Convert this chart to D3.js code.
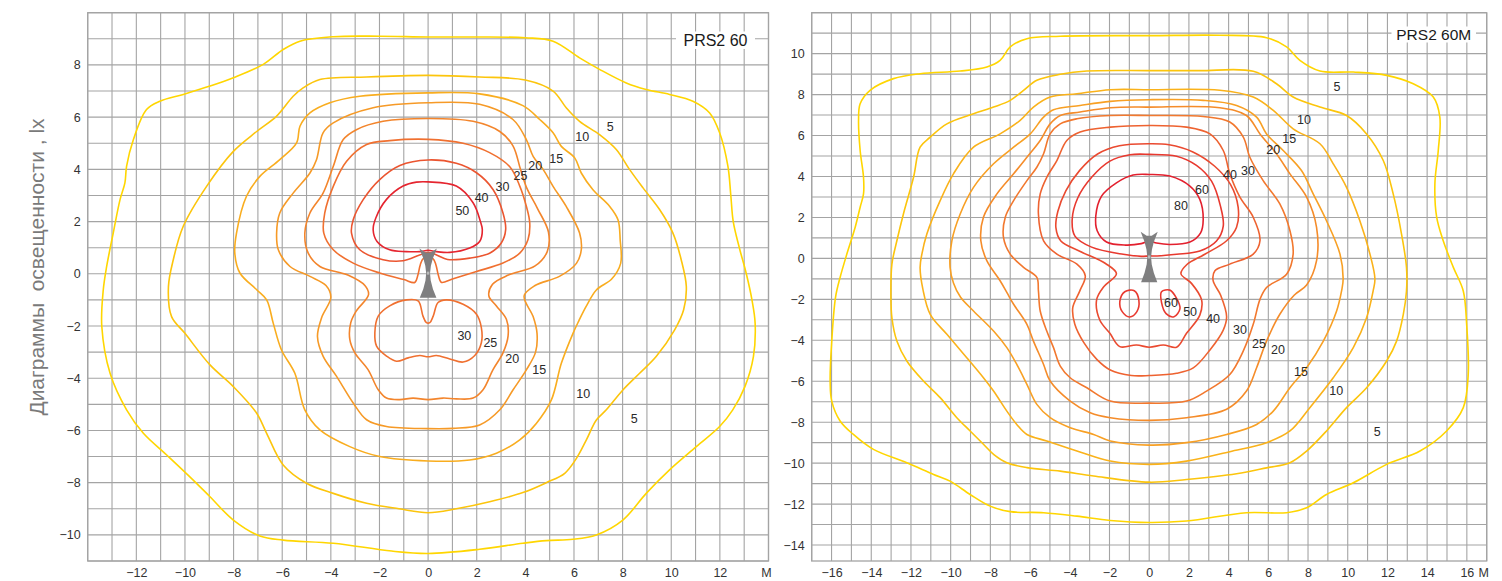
<!DOCTYPE html>
<html><head><meta charset="utf-8">
<script src="https://cdn.jsdelivr.net/npm/d3@7"></script>
<style>body{margin:0;background:#fff}svg{display:block}</style>
</head><body>
<svg id="c" width="1502" height="581"></svg>
<script>
// ---------- DATA ----------
const leftTitle = "PRS2 60";
const rightTitle = "PRS2 60M";
const yAxisTitle = "Диаграммы  освещенности , lx";
const unitLabel = "М";
const leftXTicks = [-12,-10,-8,-6,-4,-2,0,2,4,6,8,10,12];
const leftYTicks = [-10,-8,-6,-4,-2,0,2,4,6,8];
const rightXTicks = [-16,-14,-12,-10,-8,-6,-4,-2,0,2,4,6,8,10,12,14,16];
const rightYTicks = [-14,-12,-10,-8,-6,-4,-2,0,2,4,6,8,10];

const leftLevels = [5,10,15,20,25,30,40,50];
const rightLevels = [5,10,15,20,25,30,40,50,60,80];

// left panel isolines (x, y in metres)
const L5 = [[0,9.07],[2,9.07],[4,9.04],[5.14,8.91],[6.23,8.27],[7.05,7.83],[8.15,7.31],[8.97,7.06],[9.93,6.87],[10.89,6.61],[11.58,6.16],[11.99,5.4],[12.33,4.12],[12.45,3.0],[12.55,2.0],[12.8,1.0],[13.08,0.03],[13.32,-1.0],[13.45,-1.89],[13.38,-3.17],[13.03,-4.32],[12.53,-5.21],[11.99,-5.85],[11.03,-6.62],[9.93,-7.51],[8.97,-8.41],[8.01,-9.43],[6.92,-10.0],[5.96,-10.17],[4.86,-10.22],[3.9,-10.32],[2.12,-10.55],[0,-10.71],[-1.5,-10.62],[-3.9,-10.32],[-5.96,-10.2],[-6.92,-10.04],[-8.01,-9.43],[-8.97,-8.54],[-9.66,-7.9],[-10.75,-6.94],[-11.71,-6.11],[-12.4,-5.21],[-13.08,-3.81],[-13.42,-2.02],[-13.36,-0.62],[-13.22,0.28],[-12.95,1.56],[-12.67,2.84],[-12.47,3.48],[-12.4,4.12],[-12.12,5.14],[-11.58,6.29],[-11.03,6.61],[-10.07,6.87],[-8.97,7.19],[-8.01,7.51],[-6.78,8.02],[-5.96,8.59],[-5.27,8.91],[-3.9,9.08],[-2,9.1]];
const L10 = [[0,7.6],[2.12,7.54],[4,7.42],[5.14,7.0],[5.68,6.36],[6.23,5.84],[7.05,5.33],[7.74,4.76],[8.29,3.99],[8.84,3.29],[9.52,2.46],[10.07,1.56],[10.41,0.54],[10.62,-0.49],[10.51,-1.38],[10.14,-2.15],[9.38,-3.17],[8.7,-3.81],[8.01,-4.45],[7.33,-5.21],[6.92,-5.6],[6.51,-6.36],[6.1,-7.07],[5.62,-7.64],[4.86,-8.0],[3.9,-8.38],[2.53,-8.73],[1.16,-9.0],[0,-9.15],[-1.2,-9.0],[-2.53,-8.79],[-3.9,-8.41],[-5.0,-8.02],[-5.96,-7.32],[-6.64,-6.11],[-7.05,-5.34],[-8.01,-4.32],[-8.97,-3.49],[-10.0,-2.28],[-10.55,-1.64],[-10.68,-0.5],[-10.48,0.54],[-10.07,1.82],[-9.11,3.35],[-8.01,4.69],[-7.05,5.45],[-6.23,6.04],[-5.55,6.8],[-5.14,7.12],[-4.45,7.44],[-2.53,7.54]];
const L15 = [[0,6.93],[2.12,6.89],[3.9,6.44],[4.59,5.91],[5.14,5.4],[5.48,4.88],[6.03,4.44],[6.3,3.86],[6.78,3.22],[7.47,2.58],[7.81,2.07],[7.9,1.3],[7.92,0.4],[7.55,-0.2],[6.92,-0.62],[6.5,-1.25],[6.2,-1.8],[5.96,-2.28],[5.48,-3.43],[5.07,-4.83],[4.45,-5.73],[3.77,-6.36],[2.81,-6.87],[1.71,-7.13],[0,-7.17],[-1.99,-7.0],[-3.22,-6.62],[-4.45,-5.98],[-5.07,-5.21],[-5.48,-3.81],[-6.03,-2.92],[-6.37,-1.89],[-6.64,-1.0],[-7.05,-0.61],[-7.74,0.03],[-7.95,0.79],[-7.88,1.56],[-7.47,2.97],[-6.92,3.73],[-6.1,4.37],[-5.41,5.01],[-5.27,5.65],[-4.86,6.16],[-4.04,6.55],[-2.81,6.8]];
const L20 = [[0,6.55],[2.12,6.49],[3.49,5.91],[4.04,5.14],[4.32,4.5],[4.73,4.0],[5.14,3.35],[5.68,2.58],[6.23,1.56],[6.3,0.92],[6.1,0.4],[5.4,-0.1],[4.4,-0.45],[3.95,-0.85],[4.32,-1.64],[4.48,-2.28],[4.42,-3.0],[4.04,-3.68],[3.49,-4.45],[2.95,-5.21],[2.12,-5.79],[1.03,-5.92],[0,-5.93],[-1.71,-5.85],[-2.53,-5.59],[-3.08,-4.95],[-3.77,-3.92],[-4.32,-3.15],[-4.55,-2.4],[-4.38,-1.68],[-4.0,-0.9],[-4.2,-0.45],[-4.86,-0.1],[-5.68,0.28],[-6.16,0.92],[-6.23,1.56],[-6.1,2.33],[-5.55,3.09],[-4.86,3.86],[-4.59,4.37],[-4.32,5.4],[-3.9,5.78],[-2.26,6.36]];
const L25 = [[0,5.95],[1.85,5.84],[2.95,5.45],[3.49,4.9],[3.8,4.0],[4.05,3.3],[4.5,2.5],[4.95,1.6],[4.9,0.85],[4.4,0.3],[3.3,-0.05],[2.65,-0.4],[2.5,-0.85],[2.81,-1.23],[3.22,-1.74],[3.29,-2.38],[3.08,-3.03],[2.67,-3.67],[2.26,-4.44],[1.85,-4.76],[1.16,-4.79],[0.62,-4.76],[0,-4.82],[-0.62,-4.76],[-1.16,-4.82],[-1.71,-4.76],[-2.05,-4.44],[-2.47,-3.67],[-3.01,-3.03],[-3.22,-2.51],[-3.18,-1.87],[-2.95,-1.42],[-2.45,-0.8],[-2.6,-0.45],[-3.3,-0.05],[-4.45,0.28],[-4.93,0.79],[-5.07,1.56],[-4.86,2.33],[-4.32,3.09],[-3.9,4.12],[-3.49,5.14],[-2.95,5.52],[-1.85,5.84]];
const L30a = [[0,5.15],[1.44,5.0],[2.53,4.64],[3.36,4.1],[3.77,3.36],[4.04,2.59],[4.18,1.95],[4.11,1.31],[3.77,0.79],[3.08,0.41],[1.99,0.09],[1.0,-0.2],[0.55,-0.33],[0.42,-0.05],[0.32,0.35],[0.2,0.58],[0,0.6],[-0.2,0.58],[-0.32,0.35],[-0.42,-0.05],[-0.55,-0.33],[-1.0,-0.22],[-1.99,0.03],[-3.08,0.41],[-3.9,0.92],[-4.29,1.56],[-4.25,2.33],[-3.9,3.35],[-3.36,4.3],[-2.53,4.95],[-1.58,5.1]];
const L30b = [[0.07,-1.87],[0.21,-1.62],[0.41,-1.1],[0.75,-1.0],[1.44,-1.17],[1.99,-1.55],[2.19,-2.06],[2.19,-2.64],[1.92,-3.13],[1.44,-3.38],[0.89,-3.26],[0.34,-3.13],[0,-3.18],[-0.34,-3.13],[-0.82,-3.22],[-1.3,-3.35],[-1.71,-3.15],[-2.12,-2.77],[-2.19,-2.26],[-2.05,-1.62],[-1.58,-1.23],[-0.89,-1.0],[-0.41,-1.04],[-0.21,-1.62],[-0.07,-1.87]];
const L40 = [[0,4.36],[1.16,4.23],[1.99,3.87],[2.67,3.23],[3.08,2.33],[3.19,1.69],[3.01,1.18],[2.53,0.79],[1.71,0.6],[0.8,0.55],[0.35,0.72],[0,0.82],[-0.35,0.72],[-1.03,0.5],[-1.85,0.54],[-2.81,0.92],[-3.15,1.56],[-3.08,2.07],[-2.67,2.84],[-1.99,3.61],[-1.16,4.15]];
const L50 = [[0,3.52],[1.16,3.36],[1.85,2.72],[2.15,2.01],[2.23,1.69],[2.12,1.24],[1.71,0.99],[0.89,0.82],[0.34,0.85],[0,0.9],[-0.34,0.85],[-0.9,0.85],[-1.58,0.92],[-2.1,1.24],[-2.26,1.69],[-2.15,2.14],[-1.71,2.85],[-1.03,3.36],[-0.48,3.51]];

// right panel isolines
const R5 = [[0,10.88],[3.56,10.9],[5.91,10.78],[6.92,10.33],[7.59,9.67],[8.6,9.15],[10.28,9.1],[11.96,8.94],[13.3,8.53],[14.31,7.88],[14.64,6.9],[14.56,5.27],[14.39,3.64],[14.48,2.01],[14.81,0.86],[15.32,-0.44],[15.82,-1.59],[15.99,-3.22],[16.07,-5.66],[15.82,-7.29],[14.98,-8.43],[13.64,-9.41],[11.96,-10.06],[10.28,-10.96],[8.93,-11.53],[7.93,-12.18],[6.92,-12.42],[4.9,-12.42],[1.88,-12.83],[0,-12.9],[-1.96,-12.8],[-3.64,-12.59],[-5.32,-12.42],[-7.0,-12.37],[-8.01,-12.1],[-9.02,-11.53],[-10.03,-10.88],[-10.86,-10.55],[-12.21,-9.98],[-13.89,-9.33],[-14.9,-8.6],[-15.57,-7.94],[-15.99,-6.97],[-16.07,-5.99],[-15.99,-4.04],[-15.8,-1.9],[-15.57,-0.93],[-15.23,0.21],[-14.81,1.52],[-14.56,2.5],[-14.39,3.15],[-14.39,3.96],[-14.56,5.27],[-14.64,6.74],[-14.56,7.55],[-14.06,8.21],[-12.88,8.78],[-11.54,9.02],[-9.52,9.15],[-8.18,9.35],[-7.51,9.67],[-7.0,10.33],[-6.16,10.73],[-4.48,10.85]];
const R10 = [[0,9.17],[2.5,9.17],[5.24,9.14],[6.41,8.53],[7.25,7.88],[8.6,7.39],[9.94,6.98],[10.95,6.08],[11.79,4.78],[12.29,3.15],[12.71,1.19],[12.96,-0.44],[12.96,-1.59],[12.8,-2.73],[12.46,-4.04],[11.96,-5.01],[10.95,-6.32],[9.94,-7.29],[8.93,-8.43],[7.93,-9.41],[7.09,-9.98],[5.91,-10.23],[4.4,-10.52],[1.88,-10.8],[0,-10.93],[-2.8,-10.63],[-4.48,-10.39],[-6.16,-10.22],[-7.17,-9.98],[-7.84,-9.57],[-8.35,-9.08],[-9.02,-8.43],[-9.69,-7.78],[-10.53,-6.8],[-11.37,-5.99],[-12.21,-5.01],[-12.71,-4.04],[-12.96,-2.9],[-13.01,-1.8],[-12.96,-0.28],[-12.71,0.86],[-12.38,2.17],[-11.87,3.96],[-11.54,5.43],[-11.03,5.92],[-10.19,6.57],[-8.85,7.06],[-7.84,7.39],[-7.0,7.72],[-6.33,8.21],[-5.66,8.7],[-4.48,8.99],[-3.14,9.15]];
const R15 = [[0,8.24],[3.56,8.21],[5.24,7.88],[6.25,7.23],[7.25,6.33],[8.6,5.6],[9.27,4.62],[9.94,3.47],[10.61,1.84],[11.12,0.21],[11.37,-1.0],[11.28,-1.59],[10.95,-2.9],[10.28,-4.36],[9.27,-5.83],[8.09,-7.29],[7.09,-8.43],[5.91,-9.0],[4.06,-9.44],[1.88,-9.9],[0,-10.06],[-1.96,-9.9],[-3.64,-9.41],[-5.16,-8.92],[-6.16,-8.6],[-6.67,-8.11],[-7.17,-7.46],[-7.84,-6.48],[-8.35,-5.83],[-9.19,-4.85],[-10.19,-3.71],[-11.03,-2.73],[-11.4,-1.5],[-11.54,-0.44],[-11.45,0.21],[-11.2,1.19],[-10.53,2.82],[-9.86,4.13],[-8.85,5.43],[-7.51,6.08],[-6.5,6.74],[-5.83,7.39],[-4.99,7.88],[-3.64,8.04],[-1.96,8.24]];
const R20 = [[0,7.75],[2.72,7.72],[4.4,7.47],[5.41,6.9],[5.91,6.08],[6.75,5.27],[7.67,4.29],[8.26,3.15],[8.93,1.84],[9.61,0.21],[9.77,-1.0],[9.69,-1.59],[9.44,-2.57],[8.77,-4.04],[7.93,-5.34],[7.09,-6.32],[6.25,-7.46],[5.41,-8.11],[3.9,-8.6],[1.88,-9.0],[0,-9.12],[-1.96,-8.92],[-2.8,-8.6],[-3.98,-8.27],[-4.99,-7.78],[-5.66,-7.13],[-6.16,-6.15],[-6.67,-5.18],[-7.17,-4.36],[-7.84,-3.55],[-8.85,-2.57],[-9.5,-1.9],[-9.86,-1.2],[-10.03,-0.44],[-9.94,0.86],[-9.52,2.17],[-8.85,3.47],[-7.84,4.62],[-6.83,5.43],[-5.99,6.08],[-5.32,6.9],[-4.82,7.26],[-3.48,7.47],[-1.96,7.67]];
const R25 = [[0,7.39],[3.56,7.36],[4.9,6.98],[5.58,6.08],[6.41,5.11],[7.09,4.13],[7.93,2.99],[8.43,1.52],[8.43,-0.11],[7.93,-1.3],[7.3,-1.8],[6.58,-2.73],[5.91,-4.04],[5.41,-5.34],[4.9,-6.48],[3.9,-7.37],[1.88,-7.78],[0,-7.91],[-1.96,-7.78],[-2.97,-7.54],[-3.98,-6.97],[-4.99,-5.99],[-5.32,-5.18],[-5.83,-4.04],[-6.16,-3.22],[-6.83,-2.24],[-7.15,-1.7],[-7.51,-1.09],[-8.18,-0.11],[-8.48,0.86],[-8.35,2.01],[-7.67,3.15],[-6.83,4.13],[-6.16,4.94],[-5.49,5.76],[-4.99,6.57],[-4.48,6.98],[-3.48,7.15],[-1.96,7.36]];
const R30 = [[0,6.98],[2.72,6.93],[4.06,6.66],[4.74,5.92],[5.07,4.94],[5.74,3.8],[6.58,2.66],[7.09,1.35],[7.25,0.21],[6.92,-0.77],[5.91,-1.42],[5.58,-2.0],[5.24,-3.22],[4.74,-4.52],[4.06,-5.67],[2.89,-6.48],[1.88,-6.97],[0,-7.07],[-1.96,-6.97],[-3.14,-6.32],[-3.98,-5.83],[-4.48,-5.26],[-4.82,-4.36],[-5.16,-3.55],[-5.49,-2.57],[-5.58,-1.58],[-5.66,-0.93],[-6.33,-0.44],[-7.0,0.21],[-7.34,1.03],[-7.25,2.01],[-6.83,2.82],[-6.16,3.8],[-5.66,4.45],[-5.32,5.11],[-4.99,6.08],[-4.48,6.57],[-3.64,6.82],[-1.96,6.98]];
const R40 = [[0,6.49],[1.88,6.41],[3.06,6.08],[3.73,5.27],[4.06,4.13],[4.57,2.99],[5.24,2.01],[5.58,0.86],[5.24,0.21],[4.06,-0.28],[3.31,-0.6],[3.22,-1.09],[3.6,-1.8],[3.9,-2.85],[3.73,-3.5],[3.06,-4.47],[2.22,-5.35],[1.38,-5.61],[0,-5.72],[-0.9,-5.72],[-1.96,-5.45],[-2.64,-4.93],[-3.3,-4.1],[-3.75,-3.2],[-3.85,-2.41],[-3.5,-1.6],[-3.22,-0.85],[-3.64,-0.28],[-4.65,0.21],[-5.32,0.86],[-5.58,2.17],[-5.49,3.15],[-5.16,3.96],[-4.65,4.78],[-4.15,5.76],[-3.48,6.17],[-1.96,6.41]];
const R50 = [[0,5.6],[1.0,5.55],[2.2,5.2],[3.3,4.5],[4.1,3.6],[4.48,2.5],[4.4,1.52],[3.9,0.86],[2.8,0.2],[1.9,-0.3],[1.6,-0.75],[2.13,-1.22],[2.64,-2.03],[2.55,-2.77],[1.88,-3.66],[1.38,-4.34],[0.71,-4.23],[0,-4.34],[-0.64,-4.23],[-1.48,-4.31],[-1.98,-3.66],[-2.49,-3.01],[-2.65,-2.03],[-2.3,-1.4],[-1.65,-0.75],[-2.2,-0.25],[-3.5,0.35],[-4.45,0.85],[-4.7,1.5],[-4.6,2.3],[-4.2,3.3],[-3.5,4.3],[-2.6,5.1],[-1.5,5.5]];
const R60a = [[0,5.08],[1.38,4.99],[2.38,4.54],[3.14,3.77],[3.59,2.55],[3.73,1.58],[3.39,0.85],[2.55,0.36],[1.38,0.2],[0.4,0.12],[0,0.12],[-0.4,0.1],[-1.31,0.2],[-2.9,0.55],[-3.74,1.09],[-3.88,1.9],[-3.6,2.95],[-2.9,3.96],[-1.98,4.75],[-0.97,5.06]];
const R60b = [[-1.48,-2.11],[-1.23,-1.63],[-0.75,-1.58],[-0.52,-2.05],[-0.62,-2.6],[-0.98,-2.86],[-1.36,-2.6]];
const R60c = [[0.62,-1.63],[1.04,-1.55],[1.38,-1.95],[1.55,-2.45],[1.25,-2.85],[0.85,-2.7],[0.62,-2.15]];
const R80 = [[0,4.1],[1.04,4.02],[2.05,3.53],[2.55,2.88],[2.72,1.9],[2.59,1.25],[2.05,0.8],[1.04,0.68],[0.37,0.75],[0,0.85],[-0.4,0.72],[-1.2,0.65],[-2.15,0.8],[-2.62,1.35],[-2.69,2.07],[-2.4,3.04],[-1.65,3.69],[-0.81,4.07]];

// isoline label positions (value, x, y)
const leftLabelText = ["5","10","15","20","25","30","40","50","30","25","20","15","10","5"];
const leftLabelX = [7.49,6.34,5.27,4.41,3.8,3.06,2.2,1.41,1.49,2.56,3.46,4.57,6.38,8.48];
const leftLabelY = [5.64,5.25,4.41,4.14,3.76,3.34,2.91,2.42,-2.38,-2.65,-3.26,-3.68,-4.6,-5.56];
const rightLabelText = ["5","10","15","20","30","40","60","80","60","50","40","30","25","20","15","10","5"];
const rightLabelX = [9.46,7.8,7.05,6.25,4.98,4.07,2.66,1.6,1.1,2.06,3.22,4.57,5.53,6.49,7.65,9.42,11.48];
const rightLabelY = [8.38,6.77,5.88,5.3,4.27,4.08,3.35,2.57,-2.16,-2.6,-2.94,-3.48,-4.16,-4.46,-5.53,-6.46,-8.46];

// ---------- STYLE / LAYOUT ----------
const levelColor = {5:"#ffd600",10:"#fcc50c",15:"#fab21a",20:"#f8a024",25:"#f58c2a",30:"#f2782e",40:"#ee6230",50:"#ea4a30",60:"#e8392f",80:"#e3202e"};
const leftColor = {5:"#ffd600",10:"#fcc50c",15:"#f9ad1f",20:"#f69a27",25:"#f3852c",30:"#f07030",40:"#eb5530",50:"#e5252f"};
const svg = d3.select("#c");
const FONT = "'Liberation Sans', Arial, sans-serif";

function drawPanel(cfg){
  const x = d3.scaleLinear().domain(cfg.xd).range([cfg.x0, cfg.x1]);
  const y = d3.scaleLinear().domain(cfg.yd).range([cfg.y1, cfg.y0]);
  const g = svg.append("g");
  const gx = d3.range(Math.ceil(cfg.xd[0]), Math.floor(cfg.xd[1]) + 1);
  const gy = d3.range(Math.ceil(cfg.yd[0]), Math.floor(cfg.yd[1]) + 1);
  g.append("g").selectAll("line").data(gx).join("line")
    .attr("x1", d => x(d)).attr("x2", d => x(d)).attr("y1", cfg.y0).attr("y2", cfg.y1)
    .attr("stroke", "#a4a4a4").attr("stroke-width", 1.1);
  g.append("g").selectAll("line").data(gy).join("line")
    .attr("y1", d => y(d)).attr("y2", d => y(d)).attr("x1", cfg.x0).attr("x2", cfg.x1)
    .attr("stroke", "#a4a4a4").attr("stroke-width", 1.1);
  g.append("rect").attr("x", cfg.x0).attr("y", cfg.y0).attr("width", cfg.x1 - cfg.x0).attr("height", cfg.y1 - cfg.y0)
    .attr("fill", "none").attr("stroke", "#a4a4a4").attr("stroke-width", 1.3);

  const line = d3.line().x(d => x(d[0])).y(d => y(d[1])).curve(d3.curveCatmullRomClosed.alpha(0.5));
  g.append("g").selectAll("path").data(cfg.contours).join("path")
    .attr("d", d => line(d.pts)).attr("fill", "none")
    .attr("stroke", d => cfg.colors[d.level]).attr("stroke-width", 1.6);

  // luminaire symbol
  const L = cfg.lum, H = L.top - L.bottom;
  const shape = [[-1,0],[-0.3,0.08],[0.3,0.08],[1,0],[0.55,0.2],[0.32,0.35],[0.22,0.5],[0.3,0.65],[0.55,0.82],[0.95,1],[-0.95,1],[-0.55,0.82],[-0.3,0.65],[-0.22,0.5],[-0.32,0.35],[-0.55,0.2]];
  const lline = d3.line().x(d => x(d[0] * L.half)).y(d => y(L.top - d[1] * H)).curve(d3.curveLinearClosed);
  g.append("path").attr("d", lline(shape)).attr("fill", "#7f7f80");
  g.append("rect").attr("x", x(0) - 1.2).attr("y", y(L.top - 0.5 * H) - 1.5).attr("width", 2.4).attr("height", 3).attr("fill", "#b8b8b8");

  // isoline labels
  g.append("g").selectAll("text").data(cfg.labText).join("text")
    .attr("x", (d, i) => x(cfg.labX[i])).attr("y", (d, i) => y(cfg.labY[i])).attr("dy", "0.36em")
    .attr("text-anchor", "middle").attr("font-family", FONT).attr("font-size", 12.5).attr("fill", "#2a2a2a")
    .text(d => d);

  // axes
  const ax = g.append("g").attr("transform", `translate(0,${cfg.y1})`)
    .call(d3.axisBottom(x).tickValues(cfg.xt).tickSize(0).tickPadding(7.5));
  const ay = g.append("g").attr("transform", `translate(${cfg.x0},0)`)
    .call(d3.axisLeft(y).tickValues(cfg.yt).tickSize(0).tickPadding(7));
  [ax, ay].forEach(a => {
    a.select(".domain").remove();
    a.selectAll("text").attr("font-family", FONT).attr("font-size", 12.5).attr("fill", "#333");
  });
  g.append("text").attr("x", cfg.x1 + cfg.mdx).attr("y", cfg.y1 + 7.5).attr("dy", "0.71em")
    .attr("text-anchor", "middle").attr("font-family", FONT).attr("font-size", 12.5).attr("fill", "#333").text(unitLabel);

  // title box
  g.append("rect").attr("x", cfg.tb[0]).attr("y", cfg.tb[1]).attr("width", cfg.tb[2]).attr("height", cfg.tb[3]).attr("fill", "#fff");
  g.append("text").attr("x", cfg.tb[0] + cfg.tb[2] / 2).attr("y", cfg.tb[1] + cfg.tb[3] / 2).attr("dy", "0.36em")
    .attr("text-anchor", "middle").attr("font-family", FONT).attr("font-size", cfg.tfs).attr("fill", "#1a1a1a").text(cfg.title);
}

drawPanel({
  x0: 87.7, x1: 768.5, y0: 12.7, y1: 561, xd: [-14, 14], yd: [-11, 10],
  xt: leftXTicks, yt: leftYTicks, colors: leftColor, mdx: -2,
  contours: [
    {level:5, pts:L5},{level:10, pts:L10},{level:15, pts:L15},{level:20, pts:L20},
    {level:25, pts:L25},{level:30, pts:L30a},{level:30, pts:L30b},{level:40, pts:L40},{level:50, pts:L50}
  ],
  lum: {top: 0.97, bottom: -0.92, half: 0.36},
  labText: leftLabelText, labX: leftLabelX, labY: leftLabelY,
  tb: [676, 31.5, 79, 17.5], tfs: 16, title: leftTitle
});
drawPanel({
  x0: 811.7, x1: 1486.7, y0: 12.7, y1: 561, xd: [-17, 17], yd: [-14.78, 12],
  xt: rightXTicks, yt: rightYTicks, colors: levelColor, mdx: -3,
  contours: [
    {level:5, pts:R5},{level:10, pts:R10},{level:15, pts:R15},{level:20, pts:R20},
    {level:25, pts:R25},{level:30, pts:R30},{level:40, pts:R40},{level:50, pts:R50},
    {level:60, pts:R60a},{level:60, pts:R60b},{level:60, pts:R60c},{level:80, pts:R80}
  ],
  lum: {top: 1.3, bottom: -1.16, half: 0.43},
  labText: rightLabelText, labX: rightLabelX, labY: rightLabelY,
  tb: [1391.5, 26.5, 84.5, 16], tfs: 15.5, title: rightTitle
});

// y axis title
svg.append("text").attr("transform", "translate(36,267) rotate(-90)").attr("dy", "0.36em")
  .attr("text-anchor", "middle").attr("font-family", FONT).attr("font-size", 21).attr("fill", "#7a7a7a")
  .style("white-space", "pre").text(yAxisTitle);
</script>
</body></html>
